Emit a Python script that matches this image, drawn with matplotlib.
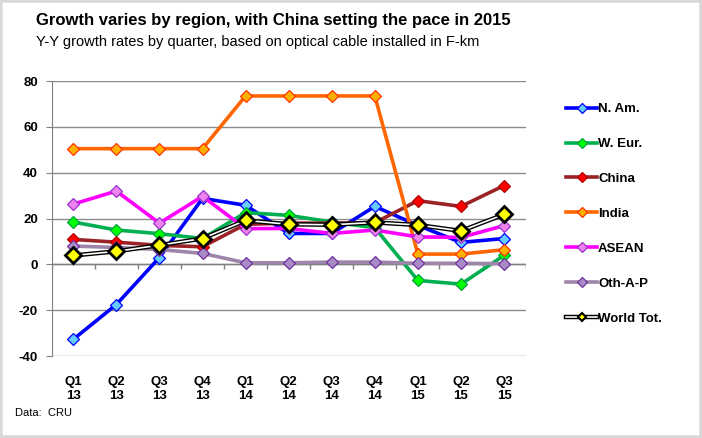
import matplotlib.pyplot as plt
from matplotlib.patches import Rectangle
from matplotlib.lines import Line2D

quarters = ["Q1\n13", "Q2\n13", "Q3\n13", "Q4\n13", "Q1\n14", "Q2\n14",
            "Q3\n14", "Q4\n14", "Q1\n15", "Q2\n15", "Q3\n15"]

n_am = [-32.7, -17.5, 3.0, 28.8, 25.8, 13.5, 13.5, 25.3, 17.0, 9.6, 11.3]
w_eur = [18.5, 15.0, 13.4, 11.3, 22.6, 21.4, 18.5, 16.0, -7.0, -8.6, 3.9]
china = [10.9, 9.7, 8.3, 7.7, 17.5, 18.0, 18.0, 18.2, 27.8, 25.3, 34.4]
india = [50.5, 50.5, 50.5, 50.5, 73.5, 73.5, 73.5, 73.5, 4.5, 4.5, 6.4]
asean = [26.3, 32.0, 18.0, 29.7, 15.6, 15.7, 13.5, 15.0, 12.0, 11.8, 16.9]
oth_ap = [8.0, 7.4, 6.5, 4.8, 0.7, 0.7, 1.0, 1.0, 0.5, 0.5, 0.3]
world = [3.9, 5.7, 8.4, 11.3, 19.2, 17.5, 17.3, 18.3, 17.2, 14.6, 21.8]

yticks = [-40, -20, 0, 20, 40, 60, 80]

plt.rcParams['font.family'] = ['Liberation Sans', 'DejaVu Sans']

fig = plt.figure(figsize=(7.02, 4.38), dpi=100)
fig.patches.append(Rectangle((0, 0), 1, 1, transform=fig.transFigure,
                             fill=False, edgecolor='#d9d9d9', linewidth=4))
ax = fig.add_axes([0.0737, 0.187, 0.675, 0.628])

x = list(range(len(quarters)))

# (label, values, line colour, marker fill, marker edge)
series = [
    ("N. Am.", n_am, '#0000ff', '#66ccff', '#0000ff'),
    ("W. Eur.", w_eur, '#00b050', '#00ff00', '#00a040'),
    ("China", china, '#9b2226', '#ff0000', '#b00000'),
    ("India", india, '#ff6600', '#ffb000', '#ff3300'),
    ("ASEAN", asean, '#ff00ff', '#ee82ee', '#9933cc'),
    ("Oth-A-P", oth_ap, '#9e86ab', '#a98bc6', '#7030a0'),
]

handles = []
for label, vals, lc, mf, me in series:
    h, = ax.plot(x, vals, color=lc, lw=2.6, marker='D', ms=6.5,
                 markerfacecolor=mf, markeredgecolor=me, markeredgewidth=0.9,
                 label=label, zorder=3)
    handles.append(h)

# world total: double black line with yellow markers
ax.plot(x, world, color='black', lw=3.2, zorder=4)
ax.plot(x, world, color='white', lw=1.2, zorder=4)
ax.plot(x, world, color='black', lw=0, marker='D', ms=8.5,
        markerfacecolor='#ffff00', markeredgecolor='black',
        markeredgewidth=2, zorder=5)

ax.set_xlim(-0.5, 10.5)
ax.set_ylim(-40, 80)
ax.set_yticks(yticks)
ax.set_yticklabels([str(v) for v in yticks], fontweight='bold', fontsize=9.5)
ax.set_xticks(x)
ax.set_xticklabels(quarters, fontweight='bold', fontsize=9.5, linespacing=1.3)
ax.tick_params(axis='x', length=0, pad=14)
ax.tick_params(axis='y', length=4, color='#808080', pad=6)
ax.grid(axis='y', color='#8c8c8c', lw=1)
ax.set_axisbelow(True)
for s in ['top', 'right', 'bottom']:
    ax.spines[s].set_visible(False)
ax.spines['left'].set_color('#808080')

# category axis at zero with tick marks between categories
ax.axhline(0, color='#808080', lw=1, zorder=1)
ax.vlines([i + 0.5 for i in range(-1, 11)], -1.8, 0, color='#808080', lw=1, zorder=1)

leg_world = (Line2D([], [], color='black', lw=3.2),
             Line2D([], [], color='white', lw=1.2),
             Line2D([], [], lw=0, marker='D', ms=6, markerfacecolor='#ffff00',
                    markeredgecolor='black', markeredgewidth=1.5))
fig.legend(handles + [leg_world],
           [h.get_label() for h in handles] + ["World Tot."],
           loc='upper left', bbox_to_anchor=(0.79, 0.792), frameon=False,
           prop={'weight': 'bold', 'size': 9.5}, handlelength=2.3,
           handletextpad=0.1, labelspacing=1.72, markerscale=0.75)

fig.text(0.051, 0.953, "Growth varies by region, with China setting the pace in 2015",
         fontsize=12, fontweight='bold', va='center')
fig.text(0.051, 0.905, "Y-Y growth rates by quarter, based on optical cable installed in F-km",
         fontsize=10.5, va='center')
fig.text(0.021, 0.057, "Data:  CRU", fontsize=8, va='center')

fig.savefig("out.png", dpi=100)
